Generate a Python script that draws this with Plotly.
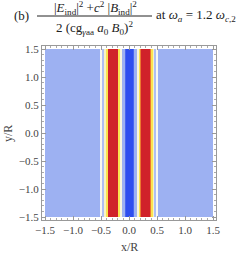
import plotly.graph_objects as go

# x-profile of the normalized field (stripes are independent of y)
x_edges = [-1.5, -0.51, -0.49, -0.44, -0.41, -0.38, -0.37, -0.20, -0.19, -0.16, -0.13, -0.08,
           -0.06, 0.07, 0.09, 0.14, 0.17, 0.20, 0.21, 0.38, 0.39, 0.42, 0.45, 0.49, 0.51, 1.5]
values = [0.30, 0.50, 0.34, 0.55, 0.68, 0.85, 1.0, 0.85, 0.68, 0.52, 0.30,
          0.10, 0.0, 0.10, 0.30, 0.52, 0.68, 0.85, 1.0, 0.85, 0.68, 0.55, 0.34, 0.50, 0.30]
y_edges = [-1.5, 1.5]

x_ticks = [-1.5, -1.0, -0.5, 0.0, 0.5, 1.0, 1.5]
y_ticks = [-1.5, -1.0, -0.5, 0.0, 0.5, 1.0, 1.5]

cscale = [
    [0.0, "rgb(46,78,238)"],
    [0.1, "rgb(72,102,240)"],
    [0.3, "rgb(157,177,242)"],
    [0.5, "rgb(248,248,240)"],
    [0.68, "rgb(250,228,80)"],
    [0.85, "rgb(236,120,48)"],
    [1.0, "rgb(208,34,42)"],
]

fig = go.Figure(go.Heatmap(
    x=x_edges, y=y_edges, z=[values],
    colorscale=cscale, zmin=0, zmax=1, showscale=False, hoverinfo="skip",
))

serif = "Liberation Serif"
rng = [-1.5536, 1.5536]
axis_common = dict(
    range=rng, showgrid=False, zeroline=False,
    showline=True, linecolor="#999", linewidth=1, mirror="allticks",
    ticks="inside", ticklen=4, tickcolor="#999",
    tickfont=dict(family=serif, size=11, color="#444"),
    tickformat=".1f",
    minor=dict(ticks="inside", ticklen=2, tickcolor="#aaa", dtick=0.1),
)
fig.update_xaxes(tickvals=x_ticks, **axis_common)
fig.update_yaxes(tickvals=y_ticks, **axis_common)

def px(xp):
    return (xp - 42) / 174

def py(yp):
    return (220 - yp) / 174

tf = dict(family=serif, size=13, color="#222")
af = dict(family=serif, size=12, color="#444")
ann = [
    dict(text="(b)", x=px(21), y=py(15), xanchor="center", yanchor="middle", font=tf),
    dict(text="|<i>E</i><sub>ind</sub>|<sup>2</sup> +<i>c</i><sup>2</sup> |<i>B</i><sub>ind</sub>|<sup>2</sup>",
         x=px(95), y=py(8), xanchor="center", yanchor="middle", font=tf),
    dict(text="2 (cg<sub><i>γ</i>aa</sub> <i>a</i><sub>0</sub> <i>B</i><sub>0</sub>)<sup>2</sup>",
         x=px(94), y=py(28), xanchor="center", yanchor="middle", font=tf),
    dict(text="at <i>ω</i><sub><i>a</i></sub> = 1.2 <i>ω</i><sub><i>c</i>,2</sub>",
         x=px(154), y=py(15), xanchor="left", yanchor="middle", font=tf),
    dict(text="x/R", x=0.5, y=py(247), xanchor="center", yanchor="middle", font=af, borderpad=0),
    dict(text="y/R", x=px(8), y=py(134), xanchor="center", yanchor="middle", textangle=-90, font=af),
]
for a in ann:
    a.update(xref="paper", yref="paper", showarrow=False)
fig.update_layout(annotations=ann)
fig.add_shape(type="line", xref="paper", yref="paper",
              x0=px(37), x1=px(152), y0=py(16), y1=py(16),
              line=dict(color="#222", width=1))

fig.update_layout(
    width=249, height=255,
    margin=dict(l=42, r=33, t=46, b=35),
    plot_bgcolor="white", paper_bgcolor="white",
)
# remove the default 8px page margin so the figure fills the window exactly
fig.write_html("out.html", config={"displayModeBar": False},
               post_script="document.body.style.margin='0';")
